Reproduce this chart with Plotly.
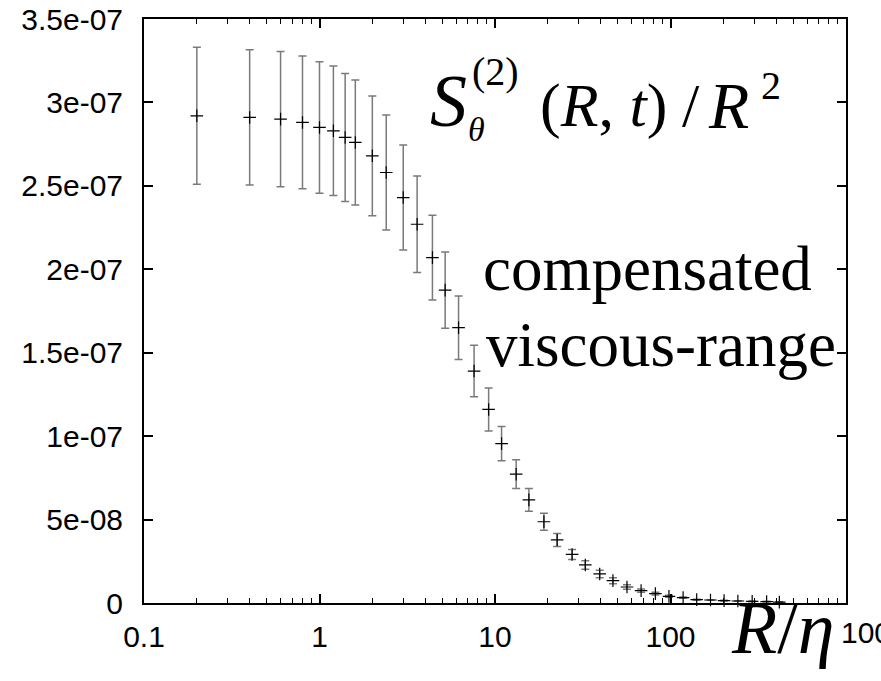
import plotly.graph_objects as go

# ---- data ----
r_over_eta = [0.2, 0.4, 0.6, 0.8, 1.0, 1.2, 1.4, 1.6, 2.0, 2.4, 3.0, 3.6, 4.4, 5.2, 6.2,
              7.6, 9.2, 10.9, 13.2, 15.6, 19.0, 22.6, 27.5, 32.7, 39.5, 47.0, 56.5, 68,
              82, 98, 118, 141, 169, 202, 242, 292, 353, 417]
s2_over_r2_e7 = [2.92, 2.91, 2.90, 2.88, 2.85, 2.83, 2.79, 2.76, 2.68, 2.58, 2.43, 2.27,
                 2.07, 1.875, 1.65, 1.39, 1.16, 0.955, 0.772, 0.618, 0.487, 0.378, 0.291,
                 0.228, 0.174, 0.134, 0.096, 0.074, 0.056, 0.040, 0.032, 0.020, 0.018,
                 0.014, 0.012, 0.010, 0.008, 0.005]
err_e7 = [0.41, 0.405, 0.405, 0.398, 0.394, 0.388, 0.384, 0.375, 0.359, 0.344, 0.315,
          0.289, 0.254, 0.229, 0.19, 0.154, 0.129, 0.103, 0.086, 0.068, 0.051, 0.039,
          0.030, 0.025, 0.022, 0.018, 0.013, 0.010, 0.008, 0.006, 0.004, 0.003, 0.002,
          0.002, 0.002, 0.002, 0.002, 0.002]

x_tick_vals = [0.1, 1, 10, 100, 1000]
x_tick_text = ["0.1", "1", "10", "100", ""]   # the 1000 label is placed after R/η below
last_x_label = "1000"
y_tick_vals = [0, 5e-8, 1e-7, 1.5e-7, 2e-7, 2.5e-7, 3e-7, 3.5e-7]
y_tick_text = ["0", "5e-08", "1e-07", "1.5e-07", "2e-07", "2.5e-07", "3e-07", "3.5e-07"]

y_vals = [v * 1e-7 for v in s2_over_r2_e7]
y_errs = [v * 1e-7 for v in err_e7]

W, H = 881, 681
L, R, T, B = 144, 35, 19, 78
PW, PH = W - L - R, H - T - B


def px(xpix):
    return (xpix - L) / PW


def py(ypix):
    return (H - B - ypix) / PH


fig = go.Figure()
fig.add_trace(go.Scatter(
    x=r_over_eta, y=y_vals, mode="markers",
    marker=dict(symbol="cross-thin", size=9, color="black",
                line=dict(color="black", width=1.2)),
    error_y=dict(type="data", array=y_errs, visible=True,
                 color="#7a7a7a", thickness=1.5, width=4),
    showlegend=False, cliponaxis=False,
))

minor_vals = [k * 10 ** e for e in (-1, 0, 1, 2) for k in range(2, 10)]

axis_font = dict(family="Liberation Sans, Arial, sans-serif", size=30, color="black")

fig.update_xaxes(
    type="log", range=[-1, 3], showgrid=False, zeroline=False,
    showline=True, linecolor="black", linewidth=2, mirror="ticks",
    ticks="inside", ticklen=9, tickwidth=1.5, tickcolor="black",
    tickmode="array", tickvals=x_tick_vals, ticktext=x_tick_text,
    tickfont=axis_font, ticklabelstandoff=6, ticklabeloverflow="allow",
    minor=dict(ticks="inside", ticklen=5, tickwidth=1.2, tickcolor="black",
               tickmode="array", tickvals=minor_vals, showgrid=False),
)
fig.update_yaxes(
    range=[0, 3.5e-7], showgrid=False, zeroline=False,
    showline=True, linecolor="black", linewidth=2, mirror="ticks",
    ticks="inside", ticklen=9, tickwidth=1.5, tickcolor="black",
    tickmode="array", tickvals=y_tick_vals, ticktext=y_tick_text,
    tickfont=axis_font, ticklabelstandoff=13, ticklabeloverflow="allow",
)

serif = "Liberation Serif, Times New Roman, serif"


def ann(text, xpix, ypix, size, xanchor="left"):
    fig.add_annotation(text=text, x=px(xpix), y=py(ypix), xref="paper", yref="paper",
                       xanchor=xanchor, yanchor="middle", showarrow=False,
                       font=dict(family=serif, size=size, color="black"))


# formula S_theta^(2)(R,t)/R^2
ann("<i>S</i>", 428, 101, 74)
ann("<i>θ</i>", 466, 129, 34)
ann("(2)", 470, 72, 40)
ann("(<i>R</i>, <i>t</i>)", 538, 105, 62)
ann("/", 680, 105, 62)
ann("<i>R</i>", 706, 105, 66)
ann("2", 759, 86, 40)

# side text
ann("compensated", 481, 269, 63)
ann("viscous-range", 484, 345, 63)

# axis label R/eta
ann("<i>R</i>/<i>η</i>", 836, 628, 74, xanchor="right")

# last x tick label, tied to the x axis value 1000 (log axis -> 3)
fig.add_annotation(text=last_x_label, x=3, xref="x", y=py(632), yref="paper",
                   xanchor="left", yanchor="middle", xshift=-7, showarrow=False,
                   font=axis_font)

fig.update_layout(
    width=W, height=H, margin=dict(l=L, r=R, t=T, b=B, autoexpand=False),
    paper_bgcolor="white", plot_bgcolor="white",
)

fig.write_html("out.html")
